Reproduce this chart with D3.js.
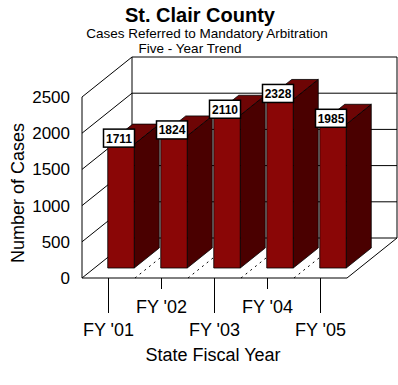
<!DOCTYPE html>
<html>
<head>
<meta charset="utf-8">
<script src="https://cdn.jsdelivr.net/npm/d3@7"></script>
<style>
  body { margin: 0; background: #fff; }
  text { font-family: "Liberation Sans", Arial, sans-serif; }
</style>
</head>
<body>
<div id="chart-area"></div>
<script>
// data
const years = ["FY '01", "FY '02", "FY '03", "FY '04", "FY '05"]
const cases = [1711, 1824, 2110, 2328, 1985]
const yTicks = [0, 500, 1000, 1500, 2000, 2500]

const W = 398, H = 385
// floor front-left corner and the depth vector of the box
const X0 = 82, X1 = 347, BASE = 278
const DX = 50, DY = -40

const svg = d3.select("#chart-area").append("svg")
  .attr("width", W)
  .attr("height", H)

// scales
const x = d3.scaleBand()
  .domain(years)
  .range([X0, X1])
  .paddingInner(0.5)
  .paddingOuter(0.25)

const y = d3.scaleLinear()
  .domain([0, 2500])
  .range([0, 181])

// point at category position px, value v, depth d (0 = front, 1 = back)
const pt = (px, v, d) => [px + d * DX, BASE - y(v) + d * DY]
const line = d3.line()

const walls = svg.append("g")
  .attr("fill", "none")
  .attr("stroke", "#000")
  .attr("stroke-width", 1)

// back wall gridlines + side wall diagonals
yTicks.forEach(v => {
  walls.append("path").attr("d", line([pt(X0, v, 1), pt(X1, v, 1)]))
  walls.append("path").attr("d", line([pt(X0, v, 0), pt(X0, v, 1)]))
})
walls.append("path").attr("d", line([pt(X0, 0, 0), pt(X0, 2500, 0)]))
walls.append("path").attr("d", line([pt(X0, 0, 1), pt(X0, 2500, 1)]))
walls.append("path").attr("d", line([pt(X1, 0, 1), pt(X1, 2500, 1)]))

// floor
walls.append("path").attr("d", line([pt(X0, 0, 0), pt(X1, 0, 0), pt(X1, 0, 1)]))
const step = x.step()
d3.range(1, years.length).forEach(k => {
  const bx = X0 + k * step
  walls.append("path")
    .attr("stroke-dasharray", "2,4")
    .attr("d", line([pt(bx, 0, 0), pt(bx, 0, 1)]))
})

// bars
const front = 0.25, back = 0.75
const bars = svg.append("g")
  .attr("stroke", "#000")
  .attr("stroke-width", 0.8)
  .attr("stroke-linejoin", "round")

years.forEach((yr, i) => {
  const v = cases[i]
  const l = x(yr), r = x(yr) + x.bandwidth()
  const g = bars.append("g")
  // side
  g.append("path")
    .attr("fill", "#4a0000")
    .attr("d", line([pt(r, 0, front), pt(r, 0, back), pt(r, v, back), pt(r, v, front)]) + "Z")
  // top
  g.append("path")
    .attr("fill", "#6e0505")
    .attr("d", line([pt(l, v, front), pt(l, v, back), pt(r, v, back), pt(r, v, front)]) + "Z")
  // front
  g.append("path")
    .attr("fill", "#8a0606")
    .attr("d", line([pt(l, 0, front), pt(r, 0, front), pt(r, v, front), pt(l, v, front)]) + "Z")
})

// value labels
years.forEach((yr, i) => {
  const v = cases[i]
  const [fx, fy] = pt(x(yr) + x.bandwidth() / 2, v, front)
  const cx = fx - 2, cy = fy - 6
  svg.append("rect")
    .attr("x", cx - 15.5)
    .attr("y", cy - 9)
    .attr("width", 31)
    .attr("height", 18)
    .attr("fill", "#fff")
    .attr("stroke", "#000")
    .attr("stroke-width", 1.5)
  svg.append("text")
    .attr("x", cx)
    .attr("y", cy + 4.5)
    .attr("text-anchor", "middle")
    .attr("font-size", "12px")
    .attr("font-weight", "bold")
    .text(v)
})

// y tick labels
yTicks.forEach(v => {
  svg.append("text")
    .attr("x", 70)
    .attr("y", BASE - y(v))
    .attr("dy", "0.35em")
    .attr("text-anchor", "end")
    .attr("font-size", "17px")
    .text(v)
})

// x ticks, staggered
years.forEach((yr, i) => {
  const cx = x(yr) + x.bandwidth() / 2
  const long = i % 2 === 0
  svg.append("line")
    .attr("x1", cx).attr("x2", cx)
    .attr("y1", BASE).attr("y2", long ? 313 : 289)
    .attr("stroke", "#000")
  svg.append("text")
    .attr("x", cx)
    .attr("y", long ? 336 : 313)
    .attr("text-anchor", "middle")
    .attr("font-size", "18px")
    .text(yr)
})

// titles
svg.append("text")
  .attr("x", 200).attr("y", 22)
  .attr("text-anchor", "middle")
  .attr("font-size", "20px")
  .attr("font-weight", "bold")
  .text("St. Clair County")
svg.append("text")
  .attr("x", 207).attr("y", 38)
  .attr("text-anchor", "middle")
  .attr("font-size", "13.5px")
  .text("Cases Referred to Mandatory Arbitration")
svg.append("text")
  .attr("x", 190).attr("y", 53)
  .attr("text-anchor", "middle")
  .attr("font-size", "13.5px")
  .text("Five - Year Trend")

svg.append("text")
  .attr("x", 213).attr("y", 361)
  .attr("text-anchor", "middle")
  .attr("font-size", "18px")
  .text("State Fiscal Year")
svg.append("text")
  .attr("transform", "translate(24, 193) rotate(-90)")
  .attr("text-anchor", "middle")
  .attr("font-size", "18px")
  .text("Number of Cases")
</script>
</body>
</html>
